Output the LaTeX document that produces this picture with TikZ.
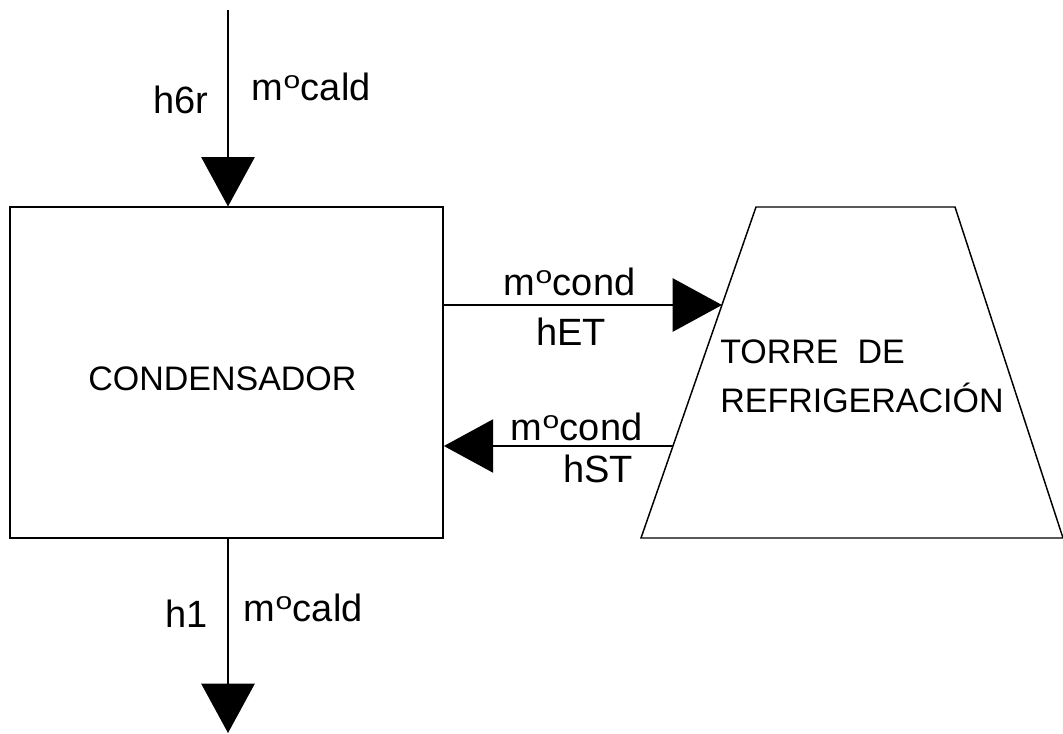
\documentclass[tikz,border=0pt]{standalone}
\usepackage{fontspec}
\setmainfont{Liberation Sans}
\usetikzlibrary{arrows.meta}
\newcommand{\supo}{\kern0.5pt\raisebox{0.29em}{\scalebox{1.25}[1]{\fontsize{18pt}{18pt}\selectfont o}}\kern0.5pt}
\tikzset{
  flow/.style={line width=1.1pt, -{Triangle[length=37pt,width=40pt]}},
  unit/.style={draw, line width=1.1pt, inner sep=0pt},
  lbl/.style={anchor=base west, inner sep=0pt, font=\fontsize{28.5pt}{30pt}\selectfont},
  caps/.style={anchor=base west, inner sep=0pt, font=\fontsize{25.5pt}{28pt}\selectfont},
}
\begin{document}
\begin{tikzpicture}[x=0.75pt, y=-0.75pt]
\useasboundingbox (0,0) rectangle (1063,733);

% condenser block
\node[unit, minimum width=325pt, minimum height=248pt] (cond) at (226.5,372.5) {};
\node[caps] (condtxt) at (88,390) {CONDENSADOR};

% cooling tower outline
\coordinate (tTL) at (756,207);
\coordinate (tTR) at (955,207);
\coordinate (tBR) at (1063,538);
\coordinate (tBL) at (641,538);
\draw[line width=1.1pt] (tTL) -- (tTR) -- (tBR) -- (tBL) -- cycle;
\node[caps] (tower1) at (720,363) {TORRE\ \ DE};
\node[caps] (tower2) at (720,412) {REFRIGERACI\'ON};

% stream endpoints
\coordinate (inTop) at (228,10);
\coordinate (outBot) at (228,733);
\coordinate (towIn) at (722,305);
\coordinate (towOut) at (673,446);

% hot steam in, condensate out
\draw[flow] (inTop) -- (cond.north -| inTop);
\draw[flow] (cond.south -| outBot) -- (outBot);

% cooling water loop
\draw[flow] (cond.east |- towIn) -- (towIn);
\draw[flow] (towOut) -- (cond.east |- towOut);

% stream labels
\node[lbl] (lh6r) at (153,113) {h6r};
\node[lbl] (lmt) at (251,100) {m\supo cald};
\node[lbl] (lh1) at (165,627) {h1};
\node[lbl] (lmb) at (243,621) {m\supo cald};
\node[lbl] (lmet) at (503,295) {m\supo cond};
\node[lbl] (lhet) at (536,345) {hET};
\node[lbl] (lmst) at (510,440) {m\supo cond};
\node[lbl] (lhst) at (563,482) {hST};
\end{tikzpicture}
\end{document}
